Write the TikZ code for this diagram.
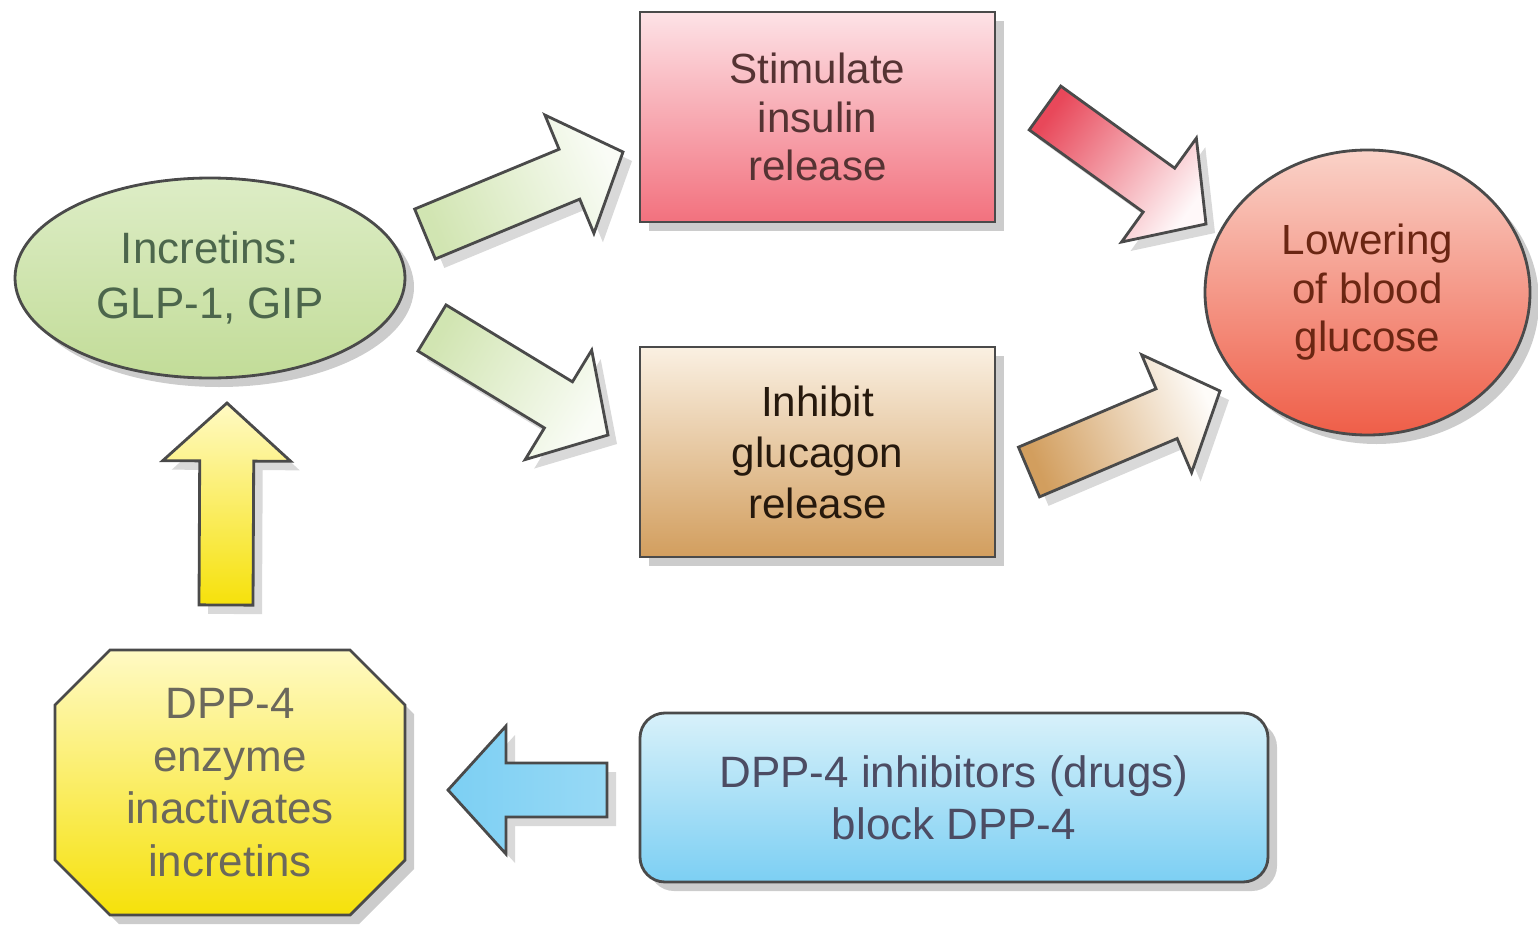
\documentclass[tikz,border=0pt]{standalone}
\usepackage{fontspec}
\setmainfont{Liberation Sans}
\usetikzlibrary{shapes.geometric,shadows,calc}

\definecolor{linegray}{HTML}{4A4A4A}
\definecolor{greentop}{HTML}{DDEDC6}
\definecolor{greenbot}{HTML}{C2DC98}
\definecolor{pinktop}{HTML}{FDE2E6}
\definecolor{pinktail}{HTML}{E8485A}
\definecolor{pinkbot}{HTML}{F2717E}
\definecolor{tantop}{HTML}{FAF0E2}
\definecolor{tanbot}{HTML}{D29E5E}
\definecolor{redtop}{HTML}{FAD2C8}
\definecolor{redbot}{HTML}{EF5E48}
\definecolor{yeltop}{HTML}{FFFAC4}
\definecolor{yelbot}{HTML}{F6E10A}
\definecolor{bluetop}{HTML}{D8F1FA}
\definecolor{bluebot}{HTML}{7CCFF3}

% block arrow from tail centre #2 to tip #3
\newcommand{\blockarrow}[3][]{%
    \coordinate (hb) at ($(#3)!0.58cm!(#2)$);
    \path[blockarrow,#1]
        ($(#2)!0.27cm!90:(#3)$) -- ($(hb)!0.27cm!90:(#3)$) --
        ($(hb)!0.64cm!90:(#3)$) -- (#3) --
        ($(hb)!0.64cm!-90:(#3)$) -- ($(hb)!0.27cm!-90:(#3)$) --
        ($(#2)!0.27cm!-90:(#3)$) -- cycle;
}

\begin{document}
\begin{tikzpicture}[
        box/.style={draw=linegray, line width=0.8pt, inner sep=0pt, align=center,
            font=\fontsize{12}{13.8}\selectfont,
            drop shadow={shadow xshift=0.09cm, shadow yshift=-0.09cm, opacity=0.4}},
        blockarrow/.style={draw=linegray, line width=0.8pt, line join=miter,
            drop shadow={shadow xshift=0.09cm, shadow yshift=-0.09cm, opacity=0.3}}
    ]
        \useasboundingbox (0,0) rectangle (15.38,9.37);

        \node[box, ellipse, minimum width=3.9cm, minimum height=2cm,
            top color=greentop, bottom color=greenbot, text=black!75!green!40!gray,
            font=\fontsize{12.5}{15.5}\selectfont]
            (incretins) at (2.10,6.59) {Incretins:\\GLP-1, GIP};
        \node[box, rectangle, minimum width=3.55cm, minimum height=2.1cm,
            top color=pinktop, bottom color=pinkbot, text=black!78!red!60!gray]
            (insulin) at (8.175,8.20) {Stimulate\\insulin\\release};
        \node[box, rectangle, minimum width=3.55cm, minimum height=2.1cm,
            top color=tantop, bottom color=tanbot, text=black!80!brown,
            font=\fontsize{12}{14.5}\selectfont]
            (glucagon) at (8.175,4.85) {Inhibit\\glucagon\\release};
        \node[box, ellipse, minimum width=3.25cm, minimum height=2.85cm,
            top color=redtop, bottom color=redbot, text=black!72!red!70!brown]
            (lowering) at (13.675,6.445) {Lowering\\of blood\\glucose};

        % octagon behind the enzyme text
        \path[box, top color=yeltop, bottom color=yelbot]
            (1.10,2.87) -- (3.50,2.87) -- (4.05,2.32) -- (4.05,0.77) --
            (3.50,0.22) -- (1.10,0.22) -- (0.55,0.77) -- (0.55,2.32) -- cycle;
        \node[align=center, text=black!78!yellow!60!gray,
            font=\fontsize{12.5}{15}\selectfont]
            (dpp) at (2.30,1.545) {DPP-4\\enzyme\\inactivates\\incretins};

        \node[box, rectangle, rounded corners=0.25cm, minimum width=6.28cm,
            minimum height=1.69cm, top color=bluetop, bottom color=bluebot,
            text=black!78!blue!40!gray, font=\fontsize{12.5}{14.8}\selectfont]
            (drugs) at (9.54,1.395) {DPP-4 inhibitors (drugs)\\block DPP-4};

        % arrow ends
        \coordinate (g1a) at (4.25,7.03);  \coordinate (g1b) at (6.23,7.85);
        \coordinate (g2a) at (4.32,6.09);  \coordinate (g2b) at (6.08,5.02);
        \coordinate (ra)  at (10.45,8.29); \coordinate (rb)  at (12.06,7.13);
        \coordinate (ta)  at (10.29,4.65); \coordinate (tb)  at (12.20,5.46);
        \coordinate (ya)  at (2.26,3.32);  \coordinate (yb)  at (2.27,5.34);
        \coordinate (ba)  at (6.07,1.47);  \coordinate (bb)  at (4.48,1.47);

        \blockarrow[bottom color=greenbot!75!white, top color=white!85!greentop, shading angle=-67]{g1a}{g1b}
        \blockarrow[bottom color=greenbot!75!white, top color=white!85!greentop, shading angle=-121]{g2a}{g2b}
        \blockarrow[bottom color=pinktail, top color=white!75!pinktop, shading angle=-126]{ra}{rb}
        \blockarrow[bottom color=tanbot, top color=white!80!tantop, shading angle=-67]{ta}{tb}
        \blockarrow[bottom color=yelbot, top color=yeltop, shading angle=0]{ya}{yb}
        \blockarrow[bottom color=bluebot!70!bluetop, top color=bluebot, shading angle=90]{ba}{bb}
    \end{tikzpicture}
\end{document}
